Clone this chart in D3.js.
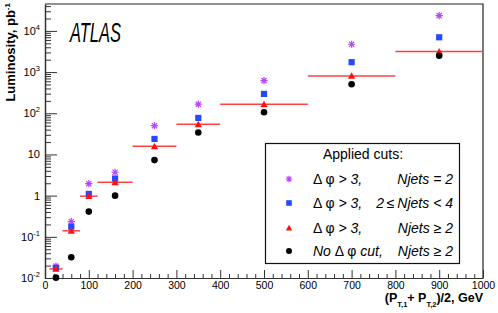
<!DOCTYPE html>
<html>
<head>
<meta charset="utf-8">
<script src="https://cdn.jsdelivr.net/npm/d3@7"></script>
<style>
  html, body { margin: 0; padding: 0; background: #fff; }
  svg { display: block; font-family: "Liberation Sans", Arial, Helvetica, sans-serif; }
</style>
</head>
<body>
<svg id="chart" width="498" height="313"></svg>
<script>
// bins in (pT1 + pT2)/2, GeV
const binLow = [10, 40, 80, 120, 200, 300, 400, 600, 800];
const binHigh = [40, 80, 120, 200, 300, 400, 600, 800, 1000];
const binCenter = [25, 60, 100, 160, 250, 350, 500, 700, 900];

// luminosity, pb^-1
const lumiDphiN2 = [0.0195, 0.233, 1.95, 3.7, 50, 166, 620, 4740, 23500];      // stars
const lumiDphiN24 = [0.0175, 0.176, 1.1, 2.6, 23.8, 77, 295, 1740, 7000];      // squares
const lumiDphiNge2 = [0.0166, 0.14, 0.97, 2.1, 15.8, 54, 165, 805, 3140];      // triangles
const lumiNoDphi = [0.0102, 0.032, 0.41, 1.0, 7.3, 34, 106, 507, 2500];        // circles

const xMajorTicks = [0, 100, 200, 300, 400, 500, 600, 700, 800, 900, 1000];
const yMajorExp = [-2, -1, 0, 1, 2, 3, 4];

const svg = d3.select("#chart");
const plotL = 45, plotR = 483, plotT = 4, plotB = 278;

const x = d3.scaleLinear().domain([0, 1000]).range([plotL, plotR]);
const y = d3.scaleLog().domain([0.01, 45000]).range([plotB, plotT]);

const axisColor = "#333";

// frame (top and right)
svg.append("path")
    .attr("d", `M${plotL},${plotT}H${plotR}V${plotB}`)
    .attr("fill", "none")
    .attr("stroke", "#222")
    .attr("stroke-width", 1.2);

// x axis
const xMinor = d3.range(0, 1001, 20).filter(v => v % 100 !== 0);
svg.append("g")
    .attr("transform", `translate(0,${plotB})`)
    .call(d3.axisBottom(x).tickValues(xMinor).tickSize(-4).tickFormat(""))
    .call(g => g.select(".domain").remove())
    .selectAll("line").attr("stroke", axisColor);

const xAxis = svg.append("g")
    .attr("transform", `translate(0,${plotB})`)
    .call(d3.axisBottom(x).tickValues(xMajorTicks).tickSize(-8).tickPadding(3).tickSizeOuter(0).tickFormat(d3.format("d")));
xAxis.select(".domain").attr("stroke", axisColor).attr("stroke-width", 1.2);
xAxis.selectAll("line").attr("stroke", axisColor);
xAxis.selectAll("text")
    .attr("y", 4)
    .attr("fill", "#000")
    .style("font-size", "10.5px")
    .style("font-family", "'Liberation Sans', Arial, sans-serif");

// y axis
const yMinor = [];
for (let e = -2; e <= 4; e++) {
    for (let m = 2; m <= 9; m++) {
        const v = m * Math.pow(10, e);
        if (v <= 45000) yMinor.push(v);
    }
}
svg.append("g")
    .attr("transform", `translate(${plotL},0)`)
    .call(d3.axisLeft(y).tickValues(yMinor).tickSize(-6).tickFormat(""))
    .call(g => g.select(".domain").remove())
    .selectAll("line").attr("stroke", axisColor);

const yAxis = svg.append("g")
    .attr("transform", `translate(${plotL},0)`)
    .call(d3.axisLeft(y).tickValues(yMajorExp.map(e => Math.pow(10, e))).tickSize(-12).tickSizeOuter(0).tickFormat(""));
yAxis.select(".domain").attr("stroke", axisColor).attr("stroke-width", 1.5);
yAxis.selectAll("line").attr("stroke", axisColor);

// y tick labels with superscripts
yMajorExp.forEach(e => {
    const t = svg.append("text")
        .attr("x", 40)
        .attr("y", y(Math.pow(10, e)) + 4)
        .attr("text-anchor", "end")
        .style("font-size", "11px");
    if (e === 0) {
        t.text("1");
    } else if (e === 1) {
        t.text("10");
    } else {
        t.append("tspan").text("10");
        t.append("tspan").attr("dy", -5).style("font-size", "7.5px").text(String(e));
    }
});

// axis titles
svg.append("text")
    .attr("transform", `translate(14.5,3) rotate(-90)`)
    .attr("text-anchor", "end")
    .style("font-size", "13px")
    .style("font-weight", "bold")
    .call(t => {
        t.append("tspan").text("Luminosity, pb");
        t.append("tspan").attr("dy", -5).style("font-size", "8px").text("-1");
    });

const xt = svg.append("text")
    .attr("x", plotR)
    .attr("y", 302)
    .attr("text-anchor", "end")
    .style("font-size", "12.5px")
    .style("font-weight", "bold");
xt.append("tspan").text("(P");
xt.append("tspan").attr("dy", 5).style("font-size", "7.5px").text("T,1");
xt.append("tspan").attr("dy", -5).text("+ P");
xt.append("tspan").attr("dy", 5).style("font-size", "7.5px").text("T,2");
xt.append("tspan").attr("dy", -5).text(")/2, GeV");

// ATLAS label
svg.append("text")
    .attr("x", 70)
    .attr("y", 42)
    .attr("textLength", 51)
    .attr("lengthAdjust", "spacingAndGlyphs")
    .style("font-size", "28px")
    .style("font-style", "italic")
    .text("ATLAS");

// markers
const colStar = "#bb44ff", colSquare = "#2649ff", colTri = "#ff1010", colLine = "#ff4040";

function drawStar(sel, cx, cy, s) {
    const p = d3.path();
    p.moveTo(cx - s, cy); p.lineTo(cx + s, cy);
    p.moveTo(cx, cy - s); p.lineTo(cx, cy + s);
    const d = s * 0.72;
    p.moveTo(cx - d, cy - d); p.lineTo(cx + d, cy + d);
    p.moveTo(cx - d, cy + d); p.lineTo(cx + d, cy - d);
    sel.append("path").attr("d", p.toString()).attr("stroke", colStar).attr("stroke-width", 1.2).attr("fill", "none");
}
function drawSquare(sel, cx, cy, s) {
    sel.append("rect").attr("x", cx - s).attr("y", cy - s).attr("width", 2 * s).attr("height", 2 * s).attr("fill", colSquare);
}
function drawTri(sel, cx, cy, s) {
    sel.append("path")
        .attr("d", `M${cx},${cy - s}L${cx + s},${cy + s * 0.8}L${cx - s},${cy + s * 0.8}Z`)
        .attr("fill", colTri);
}
function drawCircle(sel, cx, cy, r) {
    sel.append("circle").attr("cx", cx).attr("cy", cy).attr("r", r).attr("fill", "#000");
}

const marks = svg.append("g");

// x-error bars of the triangle series
marks.selectAll(".xerr")
    .data(binCenter.map((c, i) => ({ lo: binLow[i], hi: binHigh[i], v: lumiDphiNge2[i] })))
    .enter().append("line")
    .attr("class", "xerr")
    .attr("x1", d => x(d.lo)).attr("x2", d => x(d.hi))
    .attr("y1", d => y(d.v)).attr("y2", d => y(d.v))
    .attr("stroke", colLine)
    .attr("stroke-width", 1.5);

binCenter.forEach((c, i) => drawStar(marks, x(c), y(lumiDphiN2[i]), 3.6));
binCenter.forEach((c, i) => drawSquare(marks, x(c), y(lumiDphiN24[i]), 3.1));
binCenter.forEach((c, i) => drawTri(marks, x(c), y(lumiDphiNge2[i]), 3.6));
binCenter.forEach((c, i) => drawCircle(marks, x(c), y(lumiNoDphi[i]), 3.3));

// legend
const lg = svg.append("g");
lg.append("rect")
    .attr("x", 265.5).attr("y", 143.5).attr("width", 194).attr("height", 120)
    .attr("fill", "#fff").attr("stroke", "#111").attr("stroke-width", 1.2);
lg.append("text")
    .attr("x", 363).attr("y", 159)
    .attr("text-anchor", "middle")
    .style("font-size", "14px")
    .text("Applied cuts:");

const rowY = [179, 203, 228, 251];
drawStar(lg, 289, rowY[0], 3.3);
drawSquare(lg, 289, rowY[1], 2.8);
drawTri(lg, 289, rowY[2], 3.2);
drawCircle(lg, 289, rowY[3], 3);

const rowLeft = [
    [["Δ ", "normal"], ["φ", "normal"], [" > 3,", "italic"]],
    [["Δ ", "normal"], ["φ", "normal"], [" > 3,", "italic"]],
    [["Δ ", "normal"], ["φ", "normal"], [" > 3,", "italic"]],
    [["No ", "italic"], ["Δ φ", "normal"], [" cut,", "italic"]]
];
const rowRight = [
    [["Njets = 2", "italic"]],
    [["2\u2009", "italic"], ["≤", "normal"], ["\u2009Njets < 4", "italic"]],
    [["Njets ", "italic"], ["≥", "normal"], [" 2", "italic"]],
    [["Njets ", "italic"], ["≥", "normal"], [" 2", "italic"]]
];
rowY.forEach((ry, i) => {
    const tl = lg.append("text").attr("x", 313).attr("y", ry + 5).style("font-size", "14px");
    rowLeft[i].forEach(([s, st]) => tl.append("tspan").style("font-style", st).text(s));
    const tr = lg.append("text").attr("x", 453).attr("y", ry + 5).attr("text-anchor", "end").style("font-size", "14px");
    rowRight[i].forEach(([s, st]) => tr.append("tspan").style("font-style", st).text(s));
});
</script>
</body>
</html>
